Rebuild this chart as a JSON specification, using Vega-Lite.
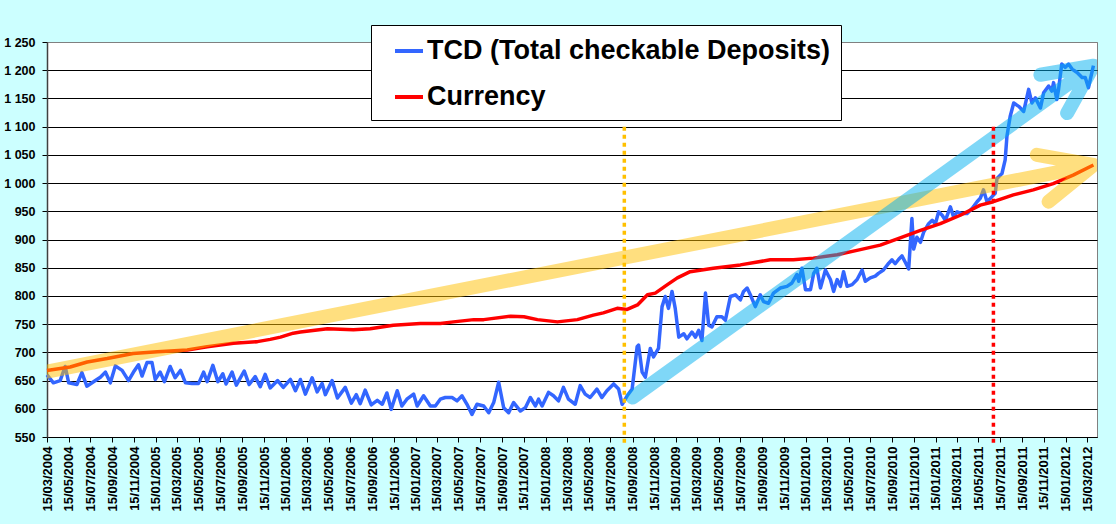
{
  "$schema": "https://vega.github.io/schema/vega-lite/v6.json",
  "width": 1050,
  "height": 395,
  "autosize": {"type": "none"},
  "padding": {"left": 47, "top": 42, "right": 19, "bottom": 87},
  "background": "#CCFFFF",
  "datasets": {
    "tcd": [
      {"d": "2004-03-15", "v": 660}, {"d": "2004-04-02", "v": 646}, {"d": "2004-04-21", "v": 650}, {"d": "2004-05-05", "v": 675},
      {"d": "2004-05-15", "v": 646}, {"d": "2004-06-07", "v": 643}, {"d": "2004-06-21", "v": 664}, {"d": "2004-07-05", "v": 640},
      {"d": "2004-07-29", "v": 650}, {"d": "2004-08-12", "v": 656}, {"d": "2004-08-26", "v": 665}, {"d": "2004-09-09", "v": 646},
      {"d": "2004-09-23", "v": 676}, {"d": "2004-10-12", "v": 668}, {"d": "2004-10-30", "v": 650}, {"d": "2004-11-13", "v": 665},
      {"d": "2004-11-27", "v": 678}, {"d": "2004-12-07", "v": 658}, {"d": "2004-12-21", "v": 682}, {"d": "2005-01-04", "v": 682},
      {"d": "2005-01-13", "v": 652}, {"d": "2005-01-27", "v": 665}, {"d": "2005-02-08", "v": 648}, {"d": "2005-02-24", "v": 675},
      {"d": "2005-03-10", "v": 655}, {"d": "2005-03-25", "v": 668}, {"d": "2005-04-08", "v": 646}, {"d": "2005-04-26", "v": 645},
      {"d": "2005-05-15", "v": 645}, {"d": "2005-05-29", "v": 665}, {"d": "2005-06-08", "v": 648}, {"d": "2005-06-24", "v": 677},
      {"d": "2005-07-08", "v": 648}, {"d": "2005-07-22", "v": 662}, {"d": "2005-07-31", "v": 644}, {"d": "2005-08-17", "v": 665},
      {"d": "2005-08-29", "v": 642}, {"d": "2005-09-20", "v": 667}, {"d": "2005-10-04", "v": 643}, {"d": "2005-10-21", "v": 657},
      {"d": "2005-11-04", "v": 639}, {"d": "2005-11-18", "v": 661}, {"d": "2005-12-02", "v": 637}, {"d": "2005-12-23", "v": 650},
      {"d": "2006-01-08", "v": 638}, {"d": "2006-01-28", "v": 652}, {"d": "2006-02-11", "v": 632}, {"d": "2006-02-25", "v": 652},
      {"d": "2006-03-11", "v": 626}, {"d": "2006-03-30", "v": 655}, {"d": "2006-04-13", "v": 630}, {"d": "2006-04-27", "v": 645},
      {"d": "2006-05-06", "v": 625}, {"d": "2006-05-25", "v": 650}, {"d": "2006-06-09", "v": 619}, {"d": "2006-07-01", "v": 638},
      {"d": "2006-07-18", "v": 610}, {"d": "2006-08-01", "v": 625}, {"d": "2006-08-12", "v": 609}, {"d": "2006-08-26", "v": 633},
      {"d": "2006-09-12", "v": 607}, {"d": "2006-09-29", "v": 615}, {"d": "2006-10-13", "v": 608}, {"d": "2006-10-26", "v": 628},
      {"d": "2006-11-07", "v": 599}, {"d": "2006-11-24", "v": 632}, {"d": "2006-12-07", "v": 605}, {"d": "2006-12-21", "v": 617},
      {"d": "2007-01-09", "v": 626}, {"d": "2007-01-19", "v": 605}, {"d": "2007-02-06", "v": 623}, {"d": "2007-02-25", "v": 605},
      {"d": "2007-03-11", "v": 605}, {"d": "2007-03-25", "v": 617}, {"d": "2007-04-08", "v": 620}, {"d": "2007-04-27", "v": 620},
      {"d": "2007-05-11", "v": 614}, {"d": "2007-05-25", "v": 623}, {"d": "2007-06-08", "v": 608}, {"d": "2007-06-22", "v": 590},
      {"d": "2007-07-06", "v": 608}, {"d": "2007-07-25", "v": 605}, {"d": "2007-08-08", "v": 593}, {"d": "2007-08-22", "v": 611},
      {"d": "2007-09-05", "v": 647}, {"d": "2007-09-19", "v": 602}, {"d": "2007-10-03", "v": 593}, {"d": "2007-10-17", "v": 611},
      {"d": "2007-11-05", "v": 596}, {"d": "2007-11-19", "v": 602}, {"d": "2007-12-03", "v": 620}, {"d": "2007-12-17", "v": 605},
      {"d": "2007-12-26", "v": 617}, {"d": "2008-01-05", "v": 605}, {"d": "2008-01-23", "v": 629}, {"d": "2008-02-06", "v": 623},
      {"d": "2008-02-20", "v": 614}, {"d": "2008-03-05", "v": 638}, {"d": "2008-03-19", "v": 617}, {"d": "2008-04-07", "v": 608},
      {"d": "2008-04-21", "v": 641}, {"d": "2008-05-05", "v": 626}, {"d": "2008-05-19", "v": 620}, {"d": "2008-06-07", "v": 635},
      {"d": "2008-06-21", "v": 620}, {"d": "2008-07-05", "v": 632}, {"d": "2008-07-24", "v": 644}, {"d": "2008-08-07", "v": 635},
      {"d": "2008-08-17", "v": 608}, {"d": "2008-08-31", "v": 623}, {"d": "2008-09-14", "v": 635}, {"d": "2008-09-28", "v": 710},
      {"d": "2008-10-02", "v": 713}, {"d": "2008-10-12", "v": 665}, {"d": "2008-10-21", "v": 656}, {"d": "2008-11-04", "v": 707},
      {"d": "2008-11-13", "v": 692}, {"d": "2008-11-27", "v": 707}, {"d": "2008-12-07", "v": 781}, {"d": "2008-12-16", "v": 799},
      {"d": "2008-12-25", "v": 778}, {"d": "2009-01-04", "v": 808}, {"d": "2009-01-13", "v": 778}, {"d": "2009-01-23", "v": 727},
      {"d": "2009-02-06", "v": 733}, {"d": "2009-02-15", "v": 724}, {"d": "2009-03-01", "v": 736}, {"d": "2009-03-11", "v": 727},
      {"d": "2009-03-20", "v": 739}, {"d": "2009-03-29", "v": 721}, {"d": "2009-04-08", "v": 805}, {"d": "2009-04-17", "v": 748},
      {"d": "2009-04-26", "v": 745}, {"d": "2009-05-10", "v": 763}, {"d": "2009-05-24", "v": 763}, {"d": "2009-06-03", "v": 757},
      {"d": "2009-06-17", "v": 799}, {"d": "2009-07-01", "v": 802}, {"d": "2009-07-15", "v": 793}, {"d": "2009-07-24", "v": 808},
      {"d": "2009-08-03", "v": 814}, {"d": "2009-08-12", "v": 802}, {"d": "2009-08-26", "v": 781}, {"d": "2009-09-09", "v": 802},
      {"d": "2009-09-18", "v": 790}, {"d": "2009-10-02", "v": 787}, {"d": "2009-10-16", "v": 805}, {"d": "2009-11-04", "v": 814},
      {"d": "2009-11-23", "v": 817}, {"d": "2009-12-07", "v": 823}, {"d": "2009-12-21", "v": 838}, {"d": "2009-12-26", "v": 826},
      {"d": "2010-01-04", "v": 849}, {"d": "2010-01-14", "v": 811}, {"d": "2010-01-28", "v": 811}, {"d": "2010-02-06", "v": 840},
      {"d": "2010-02-15", "v": 849}, {"d": "2010-02-25", "v": 814}, {"d": "2010-03-11", "v": 846}, {"d": "2010-03-25", "v": 829},
      {"d": "2010-04-03", "v": 808}, {"d": "2010-04-13", "v": 829}, {"d": "2010-04-22", "v": 817}, {"d": "2010-05-01", "v": 843},
      {"d": "2010-05-11", "v": 817}, {"d": "2010-05-25", "v": 820}, {"d": "2010-06-08", "v": 829}, {"d": "2010-06-22", "v": 846},
      {"d": "2010-07-01", "v": 826}, {"d": "2010-07-15", "v": 832}, {"d": "2010-07-29", "v": 835}, {"d": "2010-08-07", "v": 840},
      {"d": "2010-08-21", "v": 846}, {"d": "2010-09-05", "v": 858}, {"d": "2010-09-14", "v": 864}, {"d": "2010-09-23", "v": 857},
      {"d": "2010-10-03", "v": 865}, {"d": "2010-10-12", "v": 871}, {"d": "2010-10-21", "v": 860}, {"d": "2010-10-31", "v": 848},
      {"d": "2010-11-09", "v": 937}, {"d": "2010-11-14", "v": 883}, {"d": "2010-11-23", "v": 904}, {"d": "2010-12-03", "v": 895},
      {"d": "2010-12-12", "v": 913}, {"d": "2010-12-26", "v": 928}, {"d": "2011-01-05", "v": 934}, {"d": "2011-01-14", "v": 928},
      {"d": "2011-01-23", "v": 949}, {"d": "2011-02-02", "v": 943}, {"d": "2011-02-11", "v": 934}, {"d": "2011-02-25", "v": 958},
      {"d": "2011-03-06", "v": 940}, {"d": "2011-03-16", "v": 949}, {"d": "2011-03-30", "v": 946}, {"d": "2011-04-13", "v": 946},
      {"d": "2011-04-27", "v": 955}, {"d": "2011-05-11", "v": 967}, {"d": "2011-05-20", "v": 973}, {"d": "2011-05-29", "v": 988},
      {"d": "2011-06-08", "v": 967}, {"d": "2011-06-22", "v": 976}, {"d": "2011-07-01", "v": 982}, {"d": "2011-07-06", "v": 1008},
      {"d": "2011-07-20", "v": 1017}, {"d": "2011-07-29", "v": 1041}, {"d": "2011-08-03", "v": 1083}, {"d": "2011-08-12", "v": 1118},
      {"d": "2011-08-22", "v": 1142}, {"d": "2011-09-05", "v": 1136}, {"d": "2011-09-19", "v": 1127}, {"d": "2011-10-03", "v": 1166},
      {"d": "2011-10-12", "v": 1142}, {"d": "2011-10-22", "v": 1151}, {"d": "2011-11-05", "v": 1133}, {"d": "2011-11-14", "v": 1160},
      {"d": "2011-11-28", "v": 1172}, {"d": "2011-12-07", "v": 1163}, {"d": "2011-12-12", "v": 1178}, {"d": "2011-12-21", "v": 1148},
      {"d": "2011-12-26", "v": 1166}, {"d": "2012-01-04", "v": 1211}, {"d": "2012-01-14", "v": 1205}, {"d": "2012-01-23", "v": 1211},
      {"d": "2012-02-02", "v": 1202}, {"d": "2012-02-16", "v": 1196}, {"d": "2012-03-01", "v": 1187}, {"d": "2012-03-10", "v": 1187},
      {"d": "2012-03-19", "v": 1169}, {"d": "2012-04-02", "v": 1208}
    ],
    "currency": [
      {"d": "2004-03-15", "v": 668}, {"d": "2004-05-19", "v": 674}, {"d": "2004-07-06", "v": 683}, {"d": "2004-08-31", "v": 689},
      {"d": "2004-11-12", "v": 698}, {"d": "2005-01-19", "v": 701}, {"d": "2005-04-13", "v": 704}, {"d": "2005-06-08", "v": 710},
      {"d": "2005-08-21", "v": 716}, {"d": "2005-10-27", "v": 719}, {"d": "2005-12-02", "v": 723}, {"d": "2005-12-31", "v": 727},
      {"d": "2006-02-05", "v": 734}, {"d": "2006-02-25", "v": 736}, {"d": "2006-05-12", "v": 742}, {"d": "2006-07-24", "v": 740},
      {"d": "2006-09-09", "v": 742}, {"d": "2006-11-13", "v": 748}, {"d": "2007-01-28", "v": 751}, {"d": "2007-03-25", "v": 751},
      {"d": "2007-05-01", "v": 754}, {"d": "2007-06-27", "v": 758}, {"d": "2007-07-25", "v": 758}, {"d": "2007-10-09", "v": 764},
      {"d": "2007-11-15", "v": 763}, {"d": "2007-12-23", "v": 758}, {"d": "2008-02-17", "v": 754}, {"d": "2008-04-13", "v": 758},
      {"d": "2008-05-28", "v": 766}, {"d": "2008-06-25", "v": 770}, {"d": "2008-08-03", "v": 778}, {"d": "2008-08-31", "v": 776},
      {"d": "2008-09-29", "v": 784}, {"d": "2008-10-27", "v": 802}, {"d": "2008-11-18", "v": 805}, {"d": "2008-12-22", "v": 820},
      {"d": "2009-01-19", "v": 832}, {"d": "2009-02-24", "v": 843}, {"d": "2009-04-30", "v": 849}, {"d": "2009-07-15", "v": 855},
      {"d": "2009-10-07", "v": 864}, {"d": "2009-12-11", "v": 864}, {"d": "2010-02-05", "v": 867}, {"d": "2010-04-13", "v": 873},
      {"d": "2010-06-17", "v": 882}, {"d": "2010-08-12", "v": 890}, {"d": "2010-10-07", "v": 903}, {"d": "2010-12-03", "v": 916},
      {"d": "2011-01-28", "v": 928}, {"d": "2011-03-25", "v": 943}, {"d": "2011-05-20", "v": 961}, {"d": "2011-06-26", "v": 967},
      {"d": "2011-08-21", "v": 979}, {"d": "2011-10-16", "v": 988}, {"d": "2011-12-11", "v": 999}, {"d": "2012-02-05", "v": 1014},
      {"d": "2012-04-02", "v": 1032}
    ],
    "arrows": [
      {"a": "orange", "i": 1, "d": "2004-03-15", "v": 666},
      {"a": "orange", "i": 2, "d": "2012-04-02", "v": 1032},
      {"a": "orange", "i": 3, "d": "2011-10-26", "v": 1050},
      {"a": "orange", "i": 4, "d": "2012-04-02", "v": 1032},
      {"a": "orange", "i": 5, "d": "2011-11-28", "v": 967},
      {"a": "blue", "i": 1, "d": "2008-09-15", "v": 620},
      {"a": "blue", "i": 2, "d": "2012-04-02", "v": 1208},
      {"a": "blue", "i": 3, "d": "2011-11-05", "v": 1192},
      {"a": "blue", "i": 4, "d": "2012-04-02", "v": 1208},
      {"a": "blue", "i": 5, "d": "2012-01-19", "v": 1124}
    ],
    "markers": [
      {"m": "orange", "d": "2008-08-23", "v": 1100, "v2": 539},
      {"m": "red", "d": "2011-06-26", "v": 1100, "v2": 539}
    ]
  },
  "encoding": {
    "x": {
      "field": "d",
      "type": "temporal",
      "scale": {
        "type": "utc",
        "domain": [
          {"year": 2004, "month": 3, "date": 15, "utc": true},
          {"year": 2012, "month": 4, "date": 12, "utc": true}
        ]
      },
      "axis": {
        "title": null,
        "grid": false,
        "values": [
          {"year": 2004, "month": 3, "date": 15, "utc": true}, {"year": 2004, "month": 5, "date": 15, "utc": true},
          {"year": 2004, "month": 7, "date": 15, "utc": true}, {"year": 2004, "month": 9, "date": 15, "utc": true},
          {"year": 2004, "month": 11, "date": 15, "utc": true}, {"year": 2005, "month": 1, "date": 15, "utc": true},
          {"year": 2005, "month": 3, "date": 15, "utc": true}, {"year": 2005, "month": 5, "date": 15, "utc": true},
          {"year": 2005, "month": 7, "date": 15, "utc": true}, {"year": 2005, "month": 9, "date": 15, "utc": true},
          {"year": 2005, "month": 11, "date": 15, "utc": true}, {"year": 2006, "month": 1, "date": 15, "utc": true},
          {"year": 2006, "month": 3, "date": 15, "utc": true}, {"year": 2006, "month": 5, "date": 15, "utc": true},
          {"year": 2006, "month": 7, "date": 15, "utc": true}, {"year": 2006, "month": 9, "date": 15, "utc": true},
          {"year": 2006, "month": 11, "date": 15, "utc": true}, {"year": 2007, "month": 1, "date": 15, "utc": true},
          {"year": 2007, "month": 3, "date": 15, "utc": true}, {"year": 2007, "month": 5, "date": 15, "utc": true},
          {"year": 2007, "month": 7, "date": 15, "utc": true}, {"year": 2007, "month": 9, "date": 15, "utc": true},
          {"year": 2007, "month": 11, "date": 15, "utc": true}, {"year": 2008, "month": 1, "date": 15, "utc": true},
          {"year": 2008, "month": 3, "date": 15, "utc": true}, {"year": 2008, "month": 5, "date": 15, "utc": true},
          {"year": 2008, "month": 7, "date": 15, "utc": true}, {"year": 2008, "month": 9, "date": 15, "utc": true},
          {"year": 2008, "month": 11, "date": 15, "utc": true}, {"year": 2009, "month": 1, "date": 15, "utc": true},
          {"year": 2009, "month": 3, "date": 15, "utc": true}, {"year": 2009, "month": 5, "date": 15, "utc": true},
          {"year": 2009, "month": 7, "date": 15, "utc": true}, {"year": 2009, "month": 9, "date": 15, "utc": true},
          {"year": 2009, "month": 11, "date": 15, "utc": true}, {"year": 2010, "month": 1, "date": 15, "utc": true},
          {"year": 2010, "month": 3, "date": 15, "utc": true}, {"year": 2010, "month": 5, "date": 15, "utc": true},
          {"year": 2010, "month": 7, "date": 15, "utc": true}, {"year": 2010, "month": 9, "date": 15, "utc": true},
          {"year": 2010, "month": 11, "date": 15, "utc": true}, {"year": 2011, "month": 1, "date": 15, "utc": true},
          {"year": 2011, "month": 3, "date": 15, "utc": true}, {"year": 2011, "month": 5, "date": 15, "utc": true},
          {"year": 2011, "month": 7, "date": 15, "utc": true}, {"year": 2011, "month": 9, "date": 15, "utc": true},
          {"year": 2011, "month": 11, "date": 15, "utc": true}, {"year": 2012, "month": 1, "date": 15, "utc": true},
          {"year": 2012, "month": 3, "date": 15, "utc": true}
        ],
        "labelExpr": "utcFormat(datum.value, '%d/%m/%Y')",
        "labelAngle": 270,
        "labelOverlap": false,
        "labelPadding": 4,
        "labelFontSize": 13,
        "tickSize": 5,
        "tickColor": "#000000",
        "domainColor": "#000000"
      }
    },
    "y": {
      "field": "v",
      "type": "quantitative",
      "scale": {"domain": [550, 1250], "nice": false, "zero": false},
      "axis": {
        "title": null,
        "values": [550, 600, 650, 700, 750, 800, 850, 900, 950, 1000, 1050, 1100, 1150, 1200, 1250],
        "labelExpr": "replace(format(datum.value, ','), ',', ' ')",
        "labelPadding": 7,
        "labelFontSize": 12.5,
        "tickSize": 5,
        "tickColor": "#000000",
        "domainColor": "#404040",
        "domainWidth": 1.5,
        "grid": true,
        "gridColor": {"condition": {"test": "datum.value == 1250", "value": "#808080"}, "value": "#000000"},
        "gridOpacity": 1,
        "gridWidth": 1
      }
    }
  },
  "layer": [
    {
      "data": {"name": "tcd"},
      "mark": {"type": "line", "strokeWidth": 3.5, "strokeJoin": "round"},
      "encoding": {
        "color": {
          "datum": "TCD (Total checkable Deposits)",
          "type": "nominal",
          "scale": {"domain": ["TCD (Total checkable Deposits)", "Currency"], "range": ["#3366FF", "#FF0000"]},
          "legend": {
            "title": null,
            "orient": "none",
            "legendX": 324,
            "legendY": -17,
            "fillColor": "#FFFFFF",
            "strokeColor": "#000000",
            "padding": 10,
            "symbolType": "stroke",
            "symbolSize": 784,
            "symbolStrokeWidth": 4,
            "symbolOffset": 12,
            "labelOffset": 2,
            "labelFont": "Liberation Sans",
            "labelFontSize": 27,
            "labelFontWeight": "bold",
            "labelColor": "#000000",
            "labelLimit": 0,
            "rowPadding": 17
          }
        }
      }
    },
    {
      "data": {"name": "currency"},
      "mark": {"type": "line", "strokeWidth": 3.5, "strokeJoin": "round"},
      "encoding": {"color": {"datum": "Currency", "type": "nominal"}}
    },
    {
      "data": {"name": "arrows"},
      "transform": [{"filter": "datum.a == 'orange'"}],
      "mark": {"type": "line", "stroke": "#FFC000", "strokeWidth": 14, "opacity": 0.5, "strokeCap": "round", "strokeJoin": "round", "clip": true},
      "encoding": {"order": {"field": "i", "type": "quantitative"}}
    },
    {
      "data": {"name": "arrows"},
      "transform": [{"filter": "datum.a == 'blue'"}],
      "mark": {"type": "line", "stroke": "#00B0F0", "strokeWidth": 14, "opacity": 0.5, "strokeCap": "round", "strokeJoin": "round", "clip": true},
      "encoding": {"order": {"field": "i", "type": "quantitative"}}
    },
    {
      "data": {"name": "markers"},
      "transform": [{"filter": "datum.m == 'orange'"}],
      "mark": {"type": "rule", "stroke": "#FFC000", "strokeWidth": 3.5, "strokeDash": [4, 4]},
      "encoding": {"y2": {"field": "v2"}}
    },
    {
      "data": {"name": "markers"},
      "transform": [{"filter": "datum.m == 'red'"}],
      "mark": {"type": "rule", "stroke": "#FF0000", "strokeWidth": 3.5, "strokeDash": [4, 4]},
      "encoding": {"y2": {"field": "v2"}}
    }
  ],
  "config": {
    "view": {"fill": "#FFFFFF", "stroke": "#808080"},
    "axis": {
      "labelFont": "Liberation Sans",
      "labelFontWeight": "bold",
      "labelColor": "#000000"
    }
  }
}
